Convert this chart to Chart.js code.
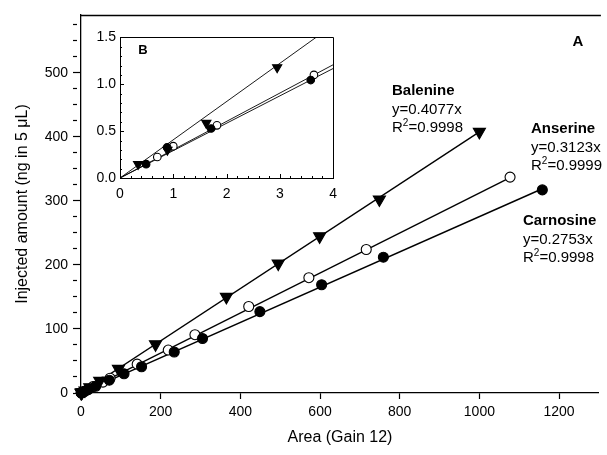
<!DOCTYPE html>
<html>
<head>
<meta charset="utf-8">
<script src="https://cdn.jsdelivr.net/npm/chart.js@4/dist/chart.umd.min.js"></script>
<style>
  html, body { margin: 0; padding: 0; background: #fff; overflow: hidden; }
  #wrap { position: relative; width: 607px; height: 455px; }
  #main { position: absolute; left: 0; top: 0; }
  #inset { position: absolute; left: 85px; top: 25px; }
</style>
</head>
<body>
<div id="wrap">
  <canvas id="main" width="607" height="455"></canvas>
  <canvas id="inset" width="260" height="180"></canvas>
</div>
<script>
// Calibration data: peak area (gain 12) vs injected amount (ng in 5 µL)
const balenineArea    = [0.34, 0.89, 1.62, 2.95, 10, 22, 47, 94, 187, 365, 495, 599, 749, 1000];
const balenineAmount  = [0.148, 0.30, 0.586, 1.18, 4, 9, 19, 37.6, 76, 150, 202, 244.5, 302, 407.5];
const anserineArea    = [0.70, 1.0, 1.82, 3.64, 10, 30, 55, 73, 141, 219, 286, 421, 572, 716, 1077];
const anserineAmount  = [0.224, 0.34, 0.562, 1.10, 3, 10, 17, 23, 45, 67, 91, 135, 180, 224, 337];
const carnosineArea   = [0.49, 0.885, 1.71, 3.58, 8, 18, 37, 71, 108, 152, 234, 305, 449, 604, 759, 1158];
const carnosineAmount = [0.148, 0.328, 0.528, 1.045, 2.1, 5.2, 10.5, 20, 30, 41, 64, 85, 127, 169, 212, 317];

// Regression slopes (whole range) and fits of the low-range inset
const compounds   = ['Balenine', 'Anserine', 'Carnosine'];
const fitSlopes   = [0.4077, 0.3123, 0.2753];
const fitR2       = ['0.9998', '0.9999', '0.9998'];
const insetSlopes = [0.4077, 0.302, 0.292];

// Axis ticks
const mainXTicks = { min: 0, max: 1300, step: 200 };
const mainYTicks = { min: 0, max: 590, step: 25, labelEvery: 100 };
const insetXTicks = { min: 0, max: 4, step: 1, minor: 0.2 };
const insetYTicks = { min: 0, max: 1.5, step: 0.5, minor: 0.1 };

const FONT = '"Liberation Sans", Arial, Helvetica, sans-serif';
Chart.defaults.font.family = FONT;
Chart.defaults.color = '#000';

function points(xs, ys, limit) {
  const out = [];
  xs.forEach((x, i) => { if (limit === undefined || x <= limit) out.push({ x: x, y: ys[i] }); });
  return out;
}
function fitLine(slope, xEnd) {
  return [{ x: 0, y: 0 }, { x: xEnd, y: slope * xEnd }];
}

const areas = [balenineArea, anserineArea, carnosineArea];
const amounts = [balenineAmount, anserineAmount, carnosineAmount];

function markerStyles(scale) {
  return [
    { pointStyle: 'triangle', rotation: 180, radius: 7 * scale, bg: '#000', border: '#000', order: 1 },
    { pointStyle: 'circle', rotation: 0, radius: 5 * scale, bg: '#fff', border: '#000', order: 2 },
    { pointStyle: 'circle', rotation: 0, radius: 5 * scale, bg: '#000', border: '#000', order: 0 }
  ];
}

function buildDatasets(slopes, xEnds, limit, mscale, lineW, clipPts) {
  const ds = [];
  const st = markerStyles(mscale);
  compounds.forEach((name, i) => {
    ds.push({
      label: name + ' fit',
      data: fitLine(slopes[i], xEnds[i]),
      showLine: true,
      borderColor: '#000',
      borderWidth: lineW,
      pointRadius: 0,
      order: 10
    });
  });
  compounds.forEach((name, i) => {
    ds.push({
      label: name,
      data: points(areas[i], amounts[i], limit),
      showLine: false,
      pointStyle: st[i].pointStyle,
      rotation: st[i].rotation,
      pointRadius: st[i].radius,
      pointBackgroundColor: st[i].bg,
      pointBorderColor: st[i].border,
      pointBorderWidth: 1.1,
      clip: clipPts ? undefined : false,
      order: st[i].order
    });
  });
  return ds;
}

// Frame, compound labels and panel letter of the main plot
const mainDecor = {
  id: 'mainDecor',
  afterDraw(chart) {
    const { ctx, chartArea: a } = chart;
    ctx.save();
    ctx.strokeStyle = '#000';
    ctx.lineWidth = 1.3;
    ctx.beginPath();
    ctx.moveTo(a.left, a.top + 0.5);
    ctx.lineTo(a.right + 2, a.top + 0.5);
    ctx.stroke();

    const notes = [
      { x: 392, y: 91 },
      { x: 531, y: 129 },
      { x: 523, y: 221 }
    ];
    const lh = 18.5;
    ctx.fillStyle = '#000';
    ctx.textBaseline = 'middle';
    ctx.textAlign = 'left';
    notes.forEach((n, i) => {
      ctx.font = 'bold 15px ' + FONT;
      ctx.fillText(compounds[i], n.x, n.y);
      ctx.font = '15px ' + FONT;
      ctx.fillText('y=' + fitSlopes[i].toFixed(4) + 'x', n.x, n.y + lh);
      const ry = n.y + 2 * lh;
      ctx.fillText('R', n.x, ry);
      const wR = ctx.measureText('R').width;
      ctx.font = '10px ' + FONT;
      ctx.fillText('2', n.x + wR, ry - 5);
      const w2 = ctx.measureText('2').width;
      ctx.font = '15px ' + FONT;
      ctx.fillText('=' + fitR2[i], n.x + wR + w2, ry);
    });
    ctx.font = 'bold 15px ' + FONT;
    ctx.textAlign = 'center';
    ctx.fillText('A', 578, 42);
    ctx.restore();
  }
};

// Frame, inward tick marks and panel letter of the inset
const insetDecor = {
  id: 'insetDecor',
  afterDraw(chart) {
    const { ctx, chartArea: a, scales: { x, y } } = chart;
    ctx.save();
    ctx.strokeStyle = '#000';
    ctx.lineWidth = 1;
    ctx.beginPath();
    const nx = Math.round((insetXTicks.max - insetXTicks.min) / insetXTicks.minor);
    for (let i = 0; i <= nx; i++) {
      const v = insetXTicks.min + i * insetXTicks.minor;
      const px = Math.round(x.getPixelForValue(v)) + 0.5;
      const len = (i % Math.round(insetXTicks.step / insetXTicks.minor) === 0) ? 4 : 2;
      ctx.moveTo(px, a.bottom);
      ctx.lineTo(px, a.bottom - len);
    }
    const ny = Math.round((insetYTicks.max - insetYTicks.min) / insetYTicks.minor);
    for (let i = 0; i <= ny; i++) {
      const v = insetYTicks.min + i * insetYTicks.minor;
      const py = Math.round(y.getPixelForValue(v)) + 0.5;
      const len = (i % Math.round(insetYTicks.step / insetYTicks.minor) === 0) ? 4 : 2;
      ctx.moveTo(a.left, py);
      ctx.lineTo(a.left + len, py);
    }
    ctx.rect(Math.round(a.left) + 0.5, Math.round(a.top) + 0.5,
             Math.round(a.right - a.left), Math.round(a.bottom - a.top));
    ctx.stroke();
    ctx.fillStyle = '#000';
    ctx.font = 'bold 13px ' + FONT;
    ctx.textAlign = 'center';
    ctx.textBaseline = 'middle';
    ctx.fillText('B', a.left + 23, a.top + 13);
    ctx.restore();
  }
};

const axisBorder = { display: true, color: '#000', width: 1.3 };

new Chart(document.getElementById('main'), {
  type: 'scatter',
  data: {
    datasets: buildDatasets(fitSlopes, areas.map(a => Math.max(...a)), undefined, 1, 1.4, false)
  },
  options: {
    responsive: false,
    animation: false,
    events: [],
    layout: { padding: { top: 15, left: 0, right: 0, bottom: 0 } },
    plugins: { legend: { display: false }, tooltip: { enabled: false }, title: { display: false } },
    scales: {
      x: {
        type: 'linear',
        min: mainXTicks.min,
        max: mainXTicks.max,
        ticks: {
          stepSize: mainXTicks.step,
          includeBounds: false,
          autoSkip: false,
          maxRotation: 0,
          padding: 5,
          font: { size: 14 },
          callback: v => String(v)
        },
        grid: { drawOnChartArea: false, drawTicks: true, tickLength: 6, tickWidth: 1.2, tickColor: '#000' },
        border: axisBorder,
        title: { display: true, text: 'Area (Gain 12)', font: { size: 16 }, padding: { top: 4, bottom: 8 } },
        afterFit(s) { s.height = 62; }
      },
      y: {
        type: 'linear',
        min: mainYTicks.min,
        max: mainYTicks.max,
        ticks: {
          stepSize: mainYTicks.step,
          includeBounds: false,
          autoSkip: false,
          padding: 5,
          font: { size: 14 },
          callback: v => (v % mainYTicks.labelEvery === 0 ? String(v) : '')
        },
        grid: {
          drawOnChartArea: false,
          drawTicks: true,
          tickLength: 8,
          tickWidth: 1.2,
          tickColor: '#000',
          tickBorderDash: ctx => (ctx.tick && ctx.tick.value % mainYTicks.labelEvery !== 0) ? [4, 30] : []
        },
        border: axisBorder,
        title: { display: true, text: 'Injected amount (ng in 5 \u03BCL)', font: { size: 16 }, padding: { top: 13, bottom: 0 } },
        afterFit(s) { s.width = 81; }
      }
    }
  },
  plugins: [mainDecor]
});

new Chart(document.getElementById('inset'), {
  type: 'scatter',
  data: {
    datasets: buildDatasets(insetSlopes, [insetXTicks.max, insetXTicks.max, insetXTicks.max], insetXTicks.max, 0.76, 0.9, true)
  },
  options: {
    responsive: false,
    animation: false,
    events: [],
    layout: { padding: { top: 8, left: 0, right: 7, bottom: 0 } },
    plugins: { legend: { display: false }, tooltip: { enabled: false }, title: { display: false } },
    scales: {
      x: {
        type: 'linear',
        min: insetXTicks.min,
        max: insetXTicks.max,
        ticks: { stepSize: insetXTicks.step, autoSkip: false, maxRotation: 0, padding: 8, font: { size: 14 }, callback: v => String(v) },
        grid: { drawOnChartArea: false, drawTicks: false },
        border: { display: true, color: '#000', width: 1 },
        afterFit(s) { s.height = 27; }
      },
      y: {
        type: 'linear',
        min: insetYTicks.min,
        max: insetYTicks.max,
        ticks: { stepSize: insetYTicks.step, autoSkip: false, padding: 4, font: { size: 14 }, callback: v => v.toFixed(1) },
        grid: { drawOnChartArea: false, drawTicks: false },
        border: { display: true, color: '#000', width: 1 },
        afterFit(s) { s.width = 35; }
      }
    }
  },
  plugins: [insetDecor]
});
</script>
</body>
</html>
